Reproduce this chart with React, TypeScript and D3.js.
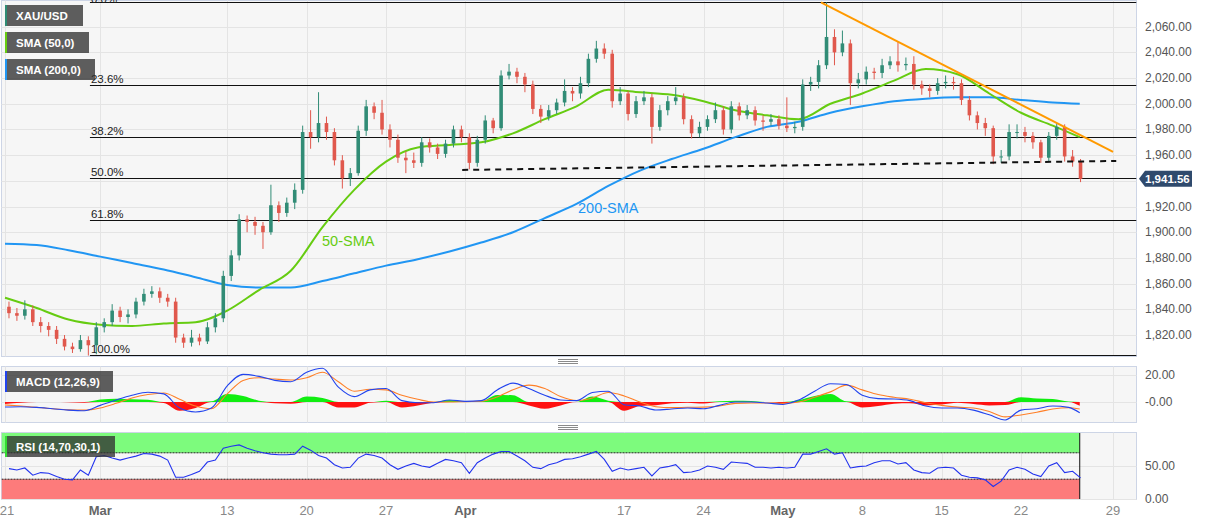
import React from 'react';
import * as d3 from 'd3';

// ---------- DATA (12-hour candles, index i spans trading day i/2 .. (i+1)/2 from Feb 21) ----------
const firstOpen = 1842;
const lastPrice = 1941.56;

const closes = [
  1837, 1835, 1840, 1830, 1827, 1824, 1817, 1811, 1809, 1816,
  1812, 1826, 1830, 1839, 1834, 1836, 1846, 1852, 1854, 1849,
  1846, 1818, 1814, 1818, 1815, 1826, 1833, 1866, 1882, 1910,
  1908, 1905, 1900, 1921, 1915, 1923, 1933, 1978, 1974, 1985,
  1978, 1956, 1942, 1946, 1979, 1998, 1993, 1980, 1972, 1958,
  1956, 1954, 1970, 1966, 1961, 1969, 1980, 1974, 1954, 1972,
  1987, 1981, 2022, 2025, 2021, 2015, 1996, 1990, 1995, 2001,
  2010, 2008, 2016, 2035, 2043, 2039, 2002, 2008, 1992, 2002,
  2005, 1982, 1995, 2002, 2005, 1988, 1977, 1982, 1988, 1995,
  1980, 1998, 1991, 1995, 1987, 1986, 1988, 1983, 1981, 1982,
  2015, 2017, 2030, 2052, 2040, 2047, 2016, 2019, 2025, 2024,
  2030, 2033, 2030, 2031, 2015, 2012, 2010, 2016, 2017, 2016,
  2003, 1991, 1985, 1981, 1959, 1959, 1978, 1978, 1975, 1970,
  1958, 1975, 1982, 1959, 1955, 1941.56,
];

const highs = [
  1846, 1841, 1847, 1843, 1834, 1830, 1827, 1820, 1814, 1820,
  1819, 1830, 1833, 1844, 1842, 1840, 1849, 1856, 1858, 1857,
  1852, 1849, 1821, 1824, 1821, 1830, 1837, 1870, 1886, 1914,
  1913, 1912, 1908, 1937, 1924, 1927, 1938, 1983, 1995, 2009,
  1990, 1981, 1960, 1950, 1983, 2003, 2001, 2003, 1984, 1976,
  1963, 1962, 1974, 1973, 1969, 1972, 1983, 1983, 1977, 1975,
  1991, 1989, 2026, 2031, 2028, 2024, 2018, 1999, 1999, 2004,
  2019, 2013, 2021, 2039, 2049, 2047, 2042, 2013, 2010, 2006,
  2010, 2008, 1999, 2006, 2013, 2008, 1991, 1986, 1991, 2001,
  1998, 2002, 2001, 1999, 1998, 1991, 1992, 1991, 2005, 1986,
  2019, 2021, 2034, 2079, 2058, 2057, 2050, 2024, 2029, 2028,
  2035, 2037, 2048, 2036, 2037, 2018, 2015, 2020, 2022, 2021,
  2019, 2006, 1994, 1989, 1983, 1964, 1984, 1984, 1982, 1978,
  1972, 1978, 1985, 1984, 1964, 1957,
];

const lows = [
  1833, 1831, 1832, 1827, 1822, 1819, 1813, 1808, 1806, 1807,
  1804, 1805, 1822, 1827, 1830, 1829, 1833, 1843, 1849, 1845,
  1842, 1814, 1810, 1811, 1812, 1813, 1822, 1830, 1862, 1878,
  1900, 1898, 1887, 1898, 1908, 1912, 1918, 1930, 1965, 1970,
  1972, 1952, 1934, 1936, 1944, 1975, 1988, 1976, 1966, 1954,
  1946, 1950, 1951, 1962, 1957, 1958, 1966, 1970, 1949, 1951,
  1969, 1977, 1979, 2019, 2016, 2009, 1992, 1985, 1987, 1992,
  1998, 2002, 2004, 2013, 2032, 2035, 1997, 1999, 1987, 1989,
  1999, 1969, 1979, 1991, 1999, 1984, 1973, 1974, 1979, 1985,
  1976, 1977, 1987, 1988, 1983, 1979, 1983, 1980, 1978, 1977,
  1979, 2010, 2012, 2027, 2030, 2037, 1999, 2012, 2015, 2019,
  2020, 2027, 2025, 2026, 2011, 2007, 2005, 2007, 2012, 2011,
  1999, 1987, 1980, 1975, 1953, 1954, 1956, 1973, 1970, 1965,
  1954, 1955, 1972, 1955, 1951, 1939,
];

// moving averages, sampled every two trading days
const smaDays = [0, 2, 4, 6, 8, 10, 12, 14, 16, 18, 20, 22, 24, 26, 28, 30, 32, 34, 36, 38, 40, 42, 44, 46, 48, 50, 52, 54, 56, 58, 60, 62, 64, 66, 67.7];
const sma50 = [1849, 1841, 1832, 1828, 1827, 1829, 1830, 1839, 1855, 1870, 1904, 1933, 1955, 1966, 1968, 1970, 1977, 1988, 1998, 2011, 2009, 2007, 2002, 1995, 1991, 1988, 2000, 2008, 2018, 2027, 2023, 2008, 1993, 1983, 1974];
const sma200 = [1891, 1890, 1886, 1881, 1876, 1871, 1865, 1859, 1857, 1857, 1862, 1868, 1874, 1879, 1885, 1892, 1900, 1911, 1922, 1936, 1948, 1957, 1965, 1974, 1982, 1986, 1993, 1998, 2002, 2004, 2005, 2005, 2003, 2001, 2000];

// MACD (12,26,9), one value per trading day
const macdDays = [
  0, 1, 2, 3, 4, 5, 6, 7, 8, 9, 10, 11, 12, 13, 14, 15, 16, 17, 18, 19,
  20, 21, 22, 23, 24, 25, 26, 27, 28, 29, 30, 31, 32, 33, 34, 35, 36, 37, 38, 39,
  40, 41, 42, 43, 44, 45, 46, 47, 48, 49, 50, 51, 52, 53, 54, 55, 56, 57, 58, 59,
  60, 61, 62, 63, 64, 65, 66, 67, 67.7,
];
const macdLine = [
  -3.7, -3.5, -4, -5, -6, -6.5, -2.5, 1.5, 5, 7.2,
  6, -4.5, -7.4, -4.5, 12, 20.5, 19, 16, 15, 22,
  25, 11, 4, 9, 10, 1, -0.5, -0.5, 1.5, 0.5,
  1, 8.9, 14, 10, 5, 1.5, 1, 7, 8, -2,
  -3, -5.9, -5.2, -4.4, -5, -2.5, 0, 0, -0.7, -1.8,
  1.5, 8, 13.5, 13, 5, 2.5, 2.2, 1, -3, -4.4,
  -4.4, -6, -9.5, -13.3, -6, -5, -3, -4, -8,
];
const signalLine = [
  -2.2, -3, -4, -5, -5.8, -6, -4.4, -1, 3, 5.5,
  6.7, 2, -3, -5, 6, 16, 18, 17, 16.3, 18,
  22, 15, 8, 9.5, 9, 5, 2, 0, 0, 0.3,
  0.5, 3.7, 9, 12.5, 10, 4, 1, 3, 7, 4.5,
  0, -3.5, -4.2, -3.9, -3.8, -3, -1, -0.7, -0.7, -1,
  0, 3.5, 7.5, 12.5, 9, 5.5, 3.5, 2, -0.5, -2.5,
  -3.8, -4.5, -7, -11, -9.6, -7.6, -5.2, -4.3, -5.2,
];

// RSI (14), one value per candle
const rsi = [
  46, 44, 47, 36, 40, 39, 34, 30, 29, 44,
  36, 64, 66, 62, 59, 62, 65, 69, 68, 65,
  59, 33, 33, 37, 42, 56, 59, 77, 80, 82,
  77, 73, 70, 68, 67, 67, 68, 80, 74, 66,
  62, 52, 47, 48, 62, 68, 66, 62, 52, 45,
  50, 54, 50, 48, 54, 60, 58, 55, 39, 55,
  62, 68, 72, 72, 65, 58, 48, 46, 52, 55,
  60, 61, 64, 68, 72, 60, 42, 47, 44, 46,
  48, 35, 47, 49, 52, 40, 41, 44, 50, 48,
  45, 56, 55, 54, 48, 48, 47, 48, 47, 48,
  68, 68, 72, 76, 68, 70, 47, 49, 50, 55,
  58, 58, 53, 55, 44, 40, 39, 47, 48, 47,
  36, 33, 32, 29, 19, 27, 44, 48, 45, 38,
  34, 50, 55, 40, 42, 32,
];

// Fibonacci retracement
const fibHigh = 2079;
const fibLow = 1804.7;
const fibStartDay = 5.35;
const fibLevels = [0, 0.236, 0.382, 0.5, 0.618, 1];
const fibLabels = ['0.0%', '23.6%', '38.2%', '50.0%', '61.8%', '100.0%'];

// drawn lines
const trendDays = [51.4, 69.8];
const trendPrices = [2079, 1962.5];
const supportDays = [28.8, 70];
const supportPrices = [1948.5, 1955.5];

// axes
const priceTicks = [1820, 1840, 1860, 1880, 1900, 1920, 1940, 1960, 1980, 2000, 2020, 2040, 2060];
const macdTicks = [20, 0];
const macdTickLabels = ['20.00', '-0.00'];
const rsiTicks = [50, 0];
const rsiTickLabels = ['50.00', '0.00'];
const xTickDays = [0, 6, 14, 19, 24, 29, 39, 44, 49, 54, 59, 64, 69.8];
const xTickLabels = ['21', 'Mar', '13', '20', '27', 'Apr', '17', '24', 'May', '8', '15', '22', '29'];
const monthLabels = ['Mar', 'Apr', 'May'];

// ---------- CHART ----------
const FONT = '"Liberation Sans", Arial, Helvetica, sans-serif';
const UP = '#318c76';
const DOWN = '#e0584d';
const GRID = '#e4e4e4';
const BG = '#f6f6f6';
const BORDER = '#cdd5e6';

export default function App() {
  const W = 1207;
  const H = 526;
  const PL = 1.5;
  const PR = 1136.5;
  const mainP = { top: 0.5, bottom: 356.5 };
  const macdP = { top: 366.5, bottom: 422.5 };
  const rsiP = { top: 432.5, bottom: 499.5 };

  const x = d3.scaleLinear().domain([0, 64]).range([5, 1021]);
  const yP = d3.scaleLinear().domain([1820, 2060]).range([335, 26.7]);
  const yM = d3.scaleLinear().domain([0, 20]).range([402, 375]);
  const yR = d3.scaleLinear().domain([0, 100]).range([499, 433]);

  const opens = closes.map((c, i) => (i === 0 ? firstOpen : closes[i - 1]));
  const candleDay = (i: number) => i / 2 + 0.25;
  const lastDay = macdDays[macdDays.length - 1];
  const bodyW = 3.6;

  const smaLine = d3
    .line<number>()
    .x((_, i) => x(smaDays[i]))
    .y((d) => yP(d))
    .curve(d3.curveMonotoneX);

  const macdGen = d3
    .line<number>()
    .x((_, i) => x(macdDays[i]))
    .y((d) => yM(d))
    .curve(d3.curveMonotoneX);

  const hist = macdLine.map((m, i) => m - signalLine[i]);
  const histPos = d3
    .area<number>()
    .x((_, i) => x(macdDays[i]))
    .y0(yM(0))
    .y1((d) => yM(Math.max(0, d)))
    .curve(d3.curveMonotoneX);
  const histNeg = d3
    .area<number>()
    .x((_, i) => x(macdDays[i]))
    .y0(yM(0))
    .y1((d) => yM(Math.min(0, d)))
    .curve(d3.curveMonotoneX);

  const rsiGen = d3
    .line<number>()
    .x((_, i) => x(candleDay(i)))
    .y((d) => yR(d));

  const fibPrice = (lv: number) => fibHigh - lv * (fibHigh - fibLow);

  const legend = (yTop: number, label: string, w: number, strip: string) => (
    <g key={label}>
      <rect x={5} y={yTop} width={w} height={21} fill="rgba(50,50,50,0.78)" />
      <rect x={5} y={yTop} width={2} height={21} fill={strip} />
      <text x={16} y={yTop + 15} fill="#fff" fontSize={11.5} fontWeight="bold" fontFamily={FONT}>
        {label}
      </text>
    </g>
  );

  const separator = (yMid: number, key: string) => (
    <g key={key} stroke="#8a8a8a" strokeWidth={1}>
      {[-2, 0, 2].map((o) => (
        <line key={o} x1={558} x2={578} y1={yMid + o + 0.5} y2={yMid + o + 0.5} />
      ))}
    </g>
  );

  const vGrid = (top: number, bottom: number) =>
    xTickDays.map((d) => (
      <line key={'vg' + d} x1={Math.round(x(d)) + 0.5} x2={Math.round(x(d)) + 0.5} y1={top} y2={bottom} stroke={GRID} />
    ));

  const lastY = yP(lastPrice);
  // tick labels hidden behind the last-price tag
  const visiblePriceTicks = priceTicks.filter((p) => Math.abs(yP(p) - lastY) > 12);

  return (
    <svg
      width={W}
      height={H}
      style={{ position: 'absolute', left: 0, top: 0, background: '#fff' }}
      fontFamily={FONT}
    >
      <defs>
        <clipPath id="clipMain">
          <rect x={PL} y={mainP.top - 0.5} width={PR - PL} height={mainP.bottom - mainP.top + 0.5} />
        </clipPath>
        <clipPath id="clipMacd">
          <rect x={PL} y={macdP.top} width={PR - PL} height={macdP.bottom - macdP.top} />
        </clipPath>
        <clipPath id="clipRsi">
          <rect x={PL} y={rsiP.top} width={PR - PL} height={rsiP.bottom - rsiP.top} />
        </clipPath>
      </defs>

      {/* ===== MAIN PANEL ===== */}
      <rect x={PL} y={mainP.top} width={PR - PL} height={mainP.bottom - mainP.top} fill={BG} stroke={BORDER} />
      <g>
        {priceTicks.map((p) => (
          <line key={'hg' + p} x1={PL} x2={PR} y1={Math.round(yP(p)) + 0.5} y2={Math.round(yP(p)) + 0.5} stroke={GRID} />
        ))}
        {vGrid(mainP.top, mainP.bottom)}
      </g>
      <g clipPath="url(#clipMain)">
        {/* fibonacci */}
        {fibLevels.map((lv, k) => {
          const yy = Math.round(yP(fibPrice(lv))) + 0.5;
          return (
            <g key={'fib' + k}>
              <line x1={x(fibStartDay)} x2={PR} y1={yy} y2={yy} stroke="#111" strokeWidth={1.2} />
              <text x={x(fibStartDay) + 1} y={Math.max(yy - 3, 2.5)} fontSize={11.5} fill="#222">
                {fibLabels[k]}
              </text>
            </g>
          );
        })}
        {/* SMAs */}
        <path d={smaLine(sma200) || ''} fill="none" stroke="#2196f3" strokeWidth={2} />
        <path d={smaLine(sma50) || ''} fill="none" stroke="#66cc11" strokeWidth={2} />
        {/* candles */}
        {closes.map((c, i) => {
          const o = opens[i];
          const up = c >= o;
          const col = up ? UP : DOWN;
          const cx = x(candleDay(i));
          const top = yP(Math.max(o, c));
          const bot = yP(Math.min(o, c));
          return (
            <g key={'c' + i}>
              <line x1={cx} x2={cx} y1={yP(highs[i])} y2={yP(lows[i])} stroke={col} strokeWidth={1} />
              <rect x={cx - bodyW / 2} y={top} width={bodyW} height={Math.max(1, bot - top)} fill={col} />
            </g>
          );
        })}
        {/* trend lines */}
        <line
          x1={x(trendDays[0])}
          y1={yP(trendPrices[0])}
          x2={x(trendDays[1])}
          y2={yP(trendPrices[1])}
          stroke="#ff9a00"
          strokeWidth={2}
        />
        <line
          x1={x(supportDays[0])}
          y1={yP(supportPrices[0])}
          x2={x(supportDays[1])}
          y2={yP(supportPrices[1])}
          stroke="#111"
          strokeWidth={2}
          strokeDasharray="6,5"
        />
        {/* annotations */}
        <text x={322} y={246} fontSize={14.5} fill="#66cc11">50-SMA</text>
        <text x={578} y={213} fontSize={14.5} fill="#2196f3">200-SMA</text>
      </g>
      {/* price axis */}
      {visiblePriceTicks.map((p) => (
        <text key={'pl' + p} x={1145} y={yP(p) + 4} fontSize={12} fill="#555">
          {d3.format(',.2f')(p)}
        </text>
      ))}
      <path
        d={`M1139,${lastY} L1145,${lastY - 8} L1192,${lastY - 8} L1192,${lastY + 8} L1145,${lastY + 8} Z`}
        fill="#2f4a6d"
      />
      <text x={1145} y={lastY + 4.5} fontSize={11.5} fontWeight="bold" fill="#fff">
        {d3.format(',.2f')(lastPrice)}
      </text>

      {/* legends main */}
      {legend(5, 'XAU/USD', 78, '#2e8b74')}
      {legend(32, 'SMA (50,0)', 84, '#66cc11')}
      {legend(59, 'SMA (200,0)', 90, '#2196f3')}

      {separator(361, 's1')}

      {/* ===== MACD PANEL ===== */}
      <rect x={PL} y={macdP.top} width={PR - PL} height={macdP.bottom - macdP.top} fill={BG} stroke={BORDER} />
      {macdTicks.map((t) => (
        <line key={'mg' + t} x1={PL} x2={PR} y1={Math.round(yM(t)) + 0.5} y2={Math.round(yM(t)) + 0.5} stroke={GRID} />
      ))}
      {vGrid(macdP.top, macdP.bottom)}
      <g clipPath="url(#clipMacd)">
        <path d={histPos(hist) || ''} fill="#11ee11" />
        <path d={histNeg(hist) || ''} fill="#ff1111" />
        <path d={macdGen(signalLine) || ''} fill="none" stroke="#ff7f27" strokeWidth={1.1} />
        <path d={macdGen(macdLine) || ''} fill="none" stroke="#2244ee" strokeWidth={1.1} />
      </g>
      {macdTicks.map((t, k) => (
        <text key={'ml' + t} x={1145} y={yM(t) + 4} fontSize={12} fill="#555">
          {macdTickLabels[k]}
        </text>
      ))}
      {legend(371, 'MACD (12,26,9)', 108, '#2244ee')}

      {separator(427, 's2')}

      {/* ===== RSI PANEL ===== */}
      <rect x={PL} y={rsiP.top} width={PR - PL} height={rsiP.bottom - rsiP.top} fill={BG} stroke={BORDER} />
      {rsiTicks.map((t) => (
        <line key={'rg' + t} x1={PL} x2={PR} y1={Math.round(yR(t)) + 0.5} y2={Math.round(yR(t)) + 0.5} stroke={GRID} />
      ))}
      {vGrid(rsiP.top, rsiP.bottom)}
      <g clipPath="url(#clipRsi)">
        <rect x={PL} y={yR(100)} width={x(lastDay) - PL} height={yR(70) - yR(100)} fill="#7dfb7d" />
        <rect x={PL} y={yR(30)} width={x(lastDay) - PL} height={yR(0) - yR(30)} fill="#fd7b7b" />
        <line x1={PL} x2={x(lastDay)} y1={yR(70)} y2={yR(70)} stroke="#222" strokeDasharray="2,1" />
        <line x1={PL} x2={x(lastDay)} y1={yR(30)} y2={yR(30)} stroke="#222" strokeDasharray="2,1" />
        <line x1={x(lastDay)} x2={x(lastDay)} y1={yR(100)} y2={yR(0)} stroke="#111" />
        <path d={rsiGen(rsi) || ''} fill="none" stroke="#2233ee" strokeWidth={1.1} />
      </g>
      {rsiTicks.map((t, k) => (
        <text key={'rl' + t} x={1145} y={yR(t) + 4} fontSize={12} fill="#555">
          {rsiTickLabels[k]}
        </text>
      ))}
      {legend(436, 'RSI (14,70,30,1)', 110, '#33dd33')}

      {/* x axis labels */}
      {xTickDays.map((d, k) => {
        const isMonth = monthLabels.includes(xTickLabels[k]);
        return (
          <text
            key={'xl' + k}
            x={Math.max(x(d), 7)}
            y={515}
            textAnchor="middle"
            fontSize={13}
            fontWeight={isMonth ? 'bold' : 'normal'}
            fill={isMonth ? '#666' : '#888'}
          >
            {xTickLabels[k]}
          </text>
        );
      })}
    </svg>
  );
}
